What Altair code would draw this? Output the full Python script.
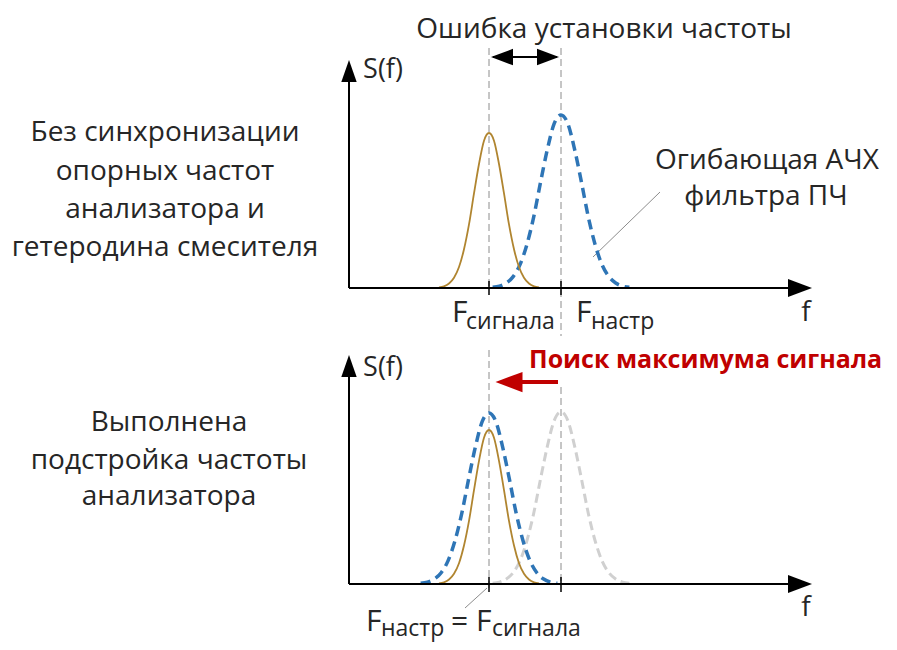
import altair as alt
import pandas as pd

# ---------------- data (diagram units = reference pixels) ----------------
# Bell-shaped profile (fraction of the peak) at offsets of 1/3 sigma
PROFILE = [0.004, 0.011, 0.029, 0.066, 0.135, 0.25, 0.41, 0.61, 0.80, 0.95, 1.0,
           0.95, 0.80, 0.61, 0.41, 0.25, 0.135, 0.066, 0.029, 0.011, 0.004]
PROFILE_STEP = 1 / 3

F_SIGNAL = 489
F_TUNE = 561
BASE_TOP = 288
BASE_BOT = 584

# curves: name, baseline, centre, peak height, sigma, style
CURVE_NAMES = ["top_signal", "top_filter", "bot_old", "bot_filter", "bot_signal"]
CURVE_BASE = [BASE_TOP, BASE_TOP, BASE_BOT, BASE_BOT, BASE_BOT]
CURVE_CENTER = [F_SIGNAL, F_TUNE, F_TUNE, F_SIGNAL, F_SIGNAL]
CURVE_PEAK = [155, 173, 172, 171, 154]
CURVE_SIGMA = [15, 20.5, 20.5, 20.5, 15]
CURVE_STYLE = ["signal", "filter", "old", "filter", "signal"]

rows = []
for n, b, c, p, s, st in zip(CURVE_NAMES, CURVE_BASE, CURVE_CENTER, CURVE_PEAK, CURVE_SIGMA, CURVE_STYLE):
    k0 = (len(PROFILE) - 1) / 2
    for i, v in enumerate(PROFILE):
        rows.append({"curve": n, "style": st, "x": c + (i - k0) * PROFILE_STEP * s, "y": b - p * v, "i": i})
curves = pd.DataFrame(rows)

# axes lines
AX_X1 = [349, 349, 349, 349]
AX_X2 = [349, 795, 349, 795]
AX_Y1 = [80, BASE_TOP, 376, BASE_BOT]
AX_Y2 = [BASE_TOP, BASE_TOP, BASE_BOT, BASE_BOT]
axes = pd.DataFrame({"x": AX_X1, "x2": AX_X2, "y": AX_Y1, "y2": AX_Y2})

# ticks at F positions
TICK_X = [F_SIGNAL, F_TUNE, F_SIGNAL, F_TUNE]
TICK_Y1 = [281, 281, 577, 577]
TICK_Y2 = [295, 295, 592, 592]
ticks = pd.DataFrame({"x": TICK_X, "x2": TICK_X, "y": TICK_Y1, "y2": TICK_Y2})

# dashed guide lines
GUIDE_X = [F_SIGNAL, F_TUNE, F_SIGNAL, F_TUNE]
GUIDE_Y1 = [48, 48, 350, 387]
GUIDE_Y2 = [288, 336, 592, 584]
guides = pd.DataFrame({"x": GUIDE_X, "x2": GUIDE_X, "y": GUIDE_Y1, "y2": GUIDE_Y2})

# thin leader lines
LEAD_X1 = [660, 487]
LEAD_Y1 = [192, 588]
LEAD_X2 = [593, 465]
LEAD_Y2 = [257, 608]
leaders = pd.DataFrame({"x": LEAD_X1, "y": LEAD_Y1, "x2": LEAD_X2, "y2": LEAD_Y2})

# arrow shafts
SHAFT_X1 = [493, 520]
SHAFT_X2 = [557, 558]
SHAFT_Y = [57, 382]
SHAFT_COLOR = ["#000000", "#C00000"]
SHAFT_W = [2, 4]
shafts = pd.DataFrame({"x": SHAFT_X1, "x2": SHAFT_X2, "y": SHAFT_Y, "y2": SHAFT_Y,
                       "c": SHAFT_COLOR, "w": SHAFT_W})

# arrow heads (centre position, direction, size, colour)
UP = "M0,-1L0.7,1L-0.7,1Z"
RIGHT = "M1,0L-1,-0.75L-1,0.75Z"
LEFT = "M-1,0L1,-0.75L1,0.75Z"
HEAD_X = [349, 800, 349, 800, 502, 548, 509]
HEAD_Y = [71, BASE_TOP, 366, BASE_BOT, 57, 57, 382]
HEAD_SHAPE = [UP, RIGHT, UP, RIGHT, LEFT, RIGHT, LEFT]
HEAD_SIZE = [484, 576, 484, 576, 484, 484, 729]
HEAD_COLOR = ["#000000"] * 6 + ["#C00000"]
heads = pd.DataFrame({"x": HEAD_X, "y": HEAD_Y, "shape": HEAD_SHAPE, "size": HEAD_SIZE, "c": HEAD_COLOR})

# centred texts
CT_TEXT = ["Ошибка установки частоты",
           "Без синхронизации", "опорных частот", "анализатора и", "гетеродина смесителя",
           "Выполнена", "подстройка частоты", "анализатора",
           "Огибающая АЧХ", "фильтра ПЧ",
           "S(f)", "S(f)", "f", "f"]
CT_X = [604, 165, 165, 165, 165, 169, 169, 169, 767, 766, 383, 383, 806, 806]
CT_Y = [30, 133, 172, 210, 248, 423, 461, 497, 161, 197, 70, 368, 313, 608]
CT_SIZE = [28, 28, 28, 28, 28, 28, 28, 28, 28, 28, 27, 27, 28, 28]
ctext = pd.DataFrame({"t": CT_TEXT, "x": CT_X, "y": CT_Y, "s": CT_SIZE})

# left aligned (F with subscripts)
LT_TEXT = ["F", "сигнала", "F", "настр", "F", "настр", "=", "F", "сигнала"]
LT_X = [452, 466, 576, 591, 366, 381, 451, 476, 492]
LT_Y = [322, 329, 322, 329, 631, 636, 631, 631, 636]
LT_SIZE = [30, 23, 30, 23, 30, 23, 30, 30, 23]
ltext = pd.DataFrame({"t": LT_TEXT, "x": LT_X, "y": LT_Y, "s": LT_SIZE})

RED_TEXT = ["Поиск максимума сигнала"]
RED_X = [529]
RED_Y = [360]
rtext = pd.DataFrame({"t": RED_TEXT, "x": RED_X, "y": RED_Y})

# ---------------- chart ----------------
FONT = "Open Sans"
TXT = "#262626"
xs = alt.Scale(domain=[8, 889], nice=False, zero=False)
ys = alt.Scale(domain=[8, 642], nice=False, zero=False, reverse=True)
X = lambda f="x": alt.X(f"{f}:Q", scale=xs, axis=None)
Y = lambda f="y": alt.Y(f"{f}:Q", scale=ys, axis=None)

guide_layer = alt.Chart(guides).mark_rule(color="#8c8c8c", strokeWidth=1, strokeDash=[7, 4]).encode(
    x=X(), y=Y(), x2="x2:Q", y2="y2:Q")
leader_layer = alt.Chart(leaders).mark_rule(color="#8c8c8c", strokeWidth=1).encode(
    x=X(), y=Y(), x2="x2:Q", y2="y2:Q")

old_layer = alt.Chart(curves[curves["style"] == "old"]).mark_line(
    color="#d0d0d0", strokeWidth=3, strokeDash=[9, 5], interpolate="monotone").encode(
    x=X(), y=Y(), detail="curve:N", order="i:Q")
filt_layer = alt.Chart(curves[curves["style"] == "filter"]).mark_line(
    color="#2E75B6", strokeWidth=3.5, strokeDash=[10, 6], interpolate="monotone").encode(
    x=X(), y=Y(), detail="curve:N", order="i:Q")
sig_layer = alt.Chart(curves[curves["style"] == "signal"]).mark_line(
    color="#B08530", strokeWidth=1.8, interpolate="monotone").encode(
    x=X(), y=Y(), detail="curve:N", order="i:Q")

axes_layer = alt.Chart(axes).mark_rule(color="#000000", strokeWidth=2).encode(
    x=X(), y=Y(), x2="x2:Q", y2="y2:Q")
tick_layer = alt.Chart(ticks).mark_rule(color="#000000", strokeWidth=1.5).encode(
    x=X(), y=Y(), x2="x2:Q", y2="y2:Q")
shaft_layer = alt.Chart(shafts).mark_rule().encode(
    x=X(), y=Y(), x2="x2:Q", y2="y2:Q",
    color=alt.Color("c:N", scale=None), strokeWidth=alt.StrokeWidth("w:Q", scale=None))
head_layer = alt.Chart(heads).mark_point(filled=True, opacity=1, strokeWidth=0).encode(
    x=X(), y=Y(), shape=alt.Shape("shape:N", scale=None),
    size=alt.Size("size:Q", scale=None), color=alt.Color("c:N", scale=None))

ctext_layer = alt.Chart(ctext).mark_text(font=FONT, color=TXT, align="center", baseline="middle").encode(
    x=X(), y=Y(), text="t:N", size=alt.Size("s:Q", scale=None))
ltext_layer = alt.Chart(ltext).mark_text(font=FONT, color=TXT, align="left", baseline="alphabetic").encode(
    x=X(), y=Y(), text="t:N", size=alt.Size("s:Q", scale=None))
rtext_layer = alt.Chart(rtext).mark_text(font=FONT, color="#C00000", fontWeight="bold", fontSize=25,
                                         align="left", baseline="middle").encode(
    x=X(), y=Y(), text="t:N")

chart = alt.layer(
    guide_layer, leader_layer, old_layer, filt_layer, sig_layer,
    axes_layer, tick_layer, shaft_layer, head_layer,
    ctext_layer, ltext_layer, rtext_layer,
).properties(
    width=881, height=634, padding=0, background="white",
    autosize=alt.AutoSizeParams(type="none"),
).configure_view(stroke=None)

chart.save("out.html", embed_options={"renderer": "svg", "actions": False})
